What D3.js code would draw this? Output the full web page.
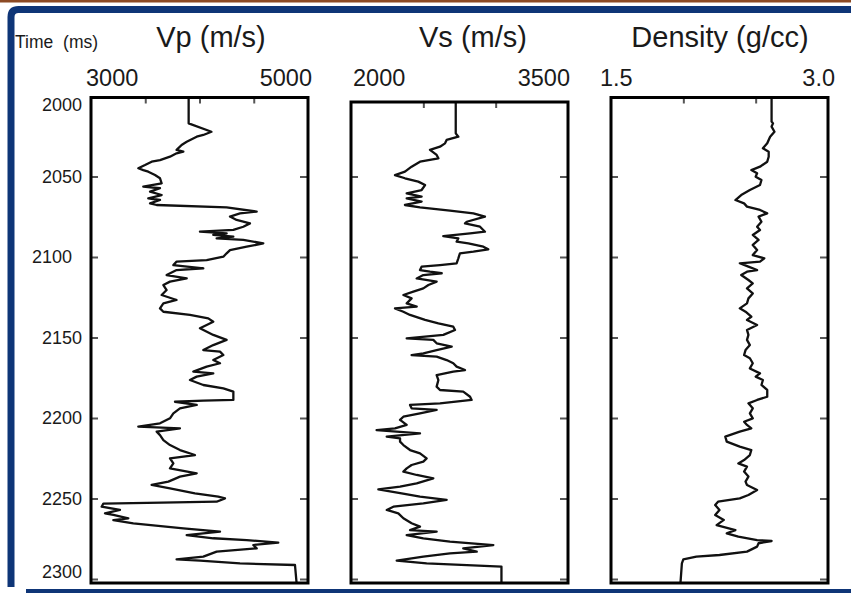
<!DOCTYPE html>
<html>
<head>
<meta charset="utf-8">
<script src="https://cdn.jsdelivr.net/npm/d3@7"></script>
<style>
  body { margin: 0; background: #fff; }
  svg { display: block; font-family: 'Liberation Sans', Arial, sans-serif; }
</style>
</head>
<body>
<div id="main"></div>
<script>
'use strict';
// - - - - - - - - - -

// data
const timeTicks = [2000, 2050, 2100, 2150, 2200, 2250, 2300];

const vpTicks = [3500, 4000, 4500];
const vsTicks = [2500, 3000];
const rhoTicks = [2.0, 2.5];

const vpTime = [2001, 2017, 2022.2, 2024.2, 2025.3, 2028.4, 2030.4, 2033.5, 2034.6, 2035.6,
  2037.7, 2039.8, 2040.8, 2042.9, 2044.9, 2046, 2047, 2049.1, 2051.1, 2054.2,
  2056.3, 2057.3, 2059.4, 2061.5, 2063.6, 2064.6, 2066.7, 2067.7, 2069.2, 2071.8,
  2072.9, 2074.9, 2077, 2079.1, 2081.2, 2083.2, 2084.3, 2085.3, 2086.3, 2087.4,
  2088.4, 2089.4, 2091.5, 2093.6, 2095.7, 2097.7, 2099.8, 2101.9, 2102.9, 2105,
  2107, 2108.1, 2111.2, 2113.3, 2115.3, 2117.4, 2120.5, 2123.6, 2126.7, 2128.8,
  2131.9, 2134, 2136, 2138.1, 2140.2, 2142.2, 2144.3, 2148.4, 2151.5, 2154.7,
  2157.8, 2158.8, 2160.9, 2164, 2166, 2168.1, 2171.2, 2172.3, 2174.3, 2176.4,
  2179.5, 2181.6, 2183.6, 2188.8, 2189.2, 2189.9, 2191.9, 2194, 2197.1, 2200.2,
  2203.3, 2205.4, 2206.4, 2208.5, 2210.6, 2213.7, 2216.8, 2219.9, 2223, 2225.1,
  2228.2, 2231.3, 2234.4, 2236.4, 2239.5, 2241.6, 2243.7, 2246.8, 2248.9, 2249.9,
  2252, 2252.6, 2253.2, 2255.1, 2257.1, 2259.2, 2260.2, 2262.3, 2263.4, 2265.4,
  2268.5, 2270.6, 2272.7, 2274.7, 2275.8, 2277.4, 2278.9, 2281, 2283, 2286.1,
  2287.8, 2288.6, 2290.3, 2291.3, 2302.7];
const vpValue = [3900, 3900, 4110, 4035, 3974, 3882, 3835, 3789, 3851, 3789,
  3728, 3636, 3559, 3498, 3436, 3482, 3528, 3590, 3636, 3651,
  3482, 3636, 3544, 3651, 3528, 3636, 3544, 3605, 4250, 4527,
  4373, 4281, 4342, 4465, 4404, 4312, 4004, 4250, 4127, 4312,
  4158, 4404, 4588, 4435, 4281, 4250, 4220, 4066, 3789, 3759,
  4035, 3789, 3697, 3882, 3728, 3667, 3697, 3651, 3789, 3667,
  3636, 3667, 3912, 4081, 4127, 4066, 4004, 4127, 4250, 4127,
  4035, 4189, 4220, 4127, 4189, 4066, 3943, 4127, 3974, 3912,
  4035, 4220, 4312, 4312, 4035, 3774, 3974, 3820, 3759, 3728,
  3636, 3436, 3820, 3605, 3636, 3667, 3728, 3820, 3958, 3728,
  3759, 3728, 3974, 3820, 3713, 3559, 3728, 3958, 4173, 4235,
  4158, 3651, 3114, 3098, 3267, 3129, 3206, 3344, 3206, 3390,
  3851, 4189, 3882, 4127, 4435, 4726, 4496, 4527, 4158, 4035,
  3789, 4005, 4373, 4880, 4895];

const vsTime = [2003.5, 2023.2, 2025.3, 2027.3, 2029.4, 2031.5, 2033.5, 2036.6, 2038.7, 2040.8,
  2043.9, 2047, 2049.1, 2051.1, 2053.2, 2055.3, 2058.4, 2060.5, 2062.5, 2063.6,
  2065.6, 2067.7, 2069.2, 2071.2, 2072.9, 2074.9, 2078.1, 2079.1, 2081.2, 2084.3,
  2085.3, 2087, 2088.4, 2090.5, 2091.5, 2093.6, 2095.2, 2096.7, 2097.7, 2100.8,
  2103.9, 2105, 2106, 2108.1, 2109.1, 2110.1, 2111.2, 2113.3, 2115.3, 2117.4,
  2119.5, 2121.5, 2123.6, 2125.7, 2128.8, 2130.8, 2131.9, 2134, 2136, 2139.1,
  2141.2, 2143.3, 2145.3, 2148.4, 2150.5, 2151.5, 2153.6, 2155.7, 2157.8, 2159.8,
  2160.9, 2161.9, 2164, 2166, 2168.1, 2170.2, 2171.2, 2173.3, 2176.4, 2180.5,
  2182.6, 2183.6, 2186.8, 2188.8, 2190.9, 2191.9, 2194, 2195, 2197.1, 2199.2,
  2201.2, 2204.3, 2206.4, 2207.5, 2209.5, 2211.6, 2212.6, 2214.7, 2216.8, 2219.9,
  2222, 2225.1, 2227.1, 2229.2, 2231.3, 2233.3, 2235.4, 2237.5, 2240.6, 2242.6,
  2244.3, 2246.8, 2248.9, 2250.9, 2253, 2255.1, 2257.1, 2259.2, 2262.3, 2265.4,
  2267.5, 2269.6, 2270.6, 2272.7, 2274.7, 2276.8, 2278.9, 2281, 2283, 2284.1,
  2286.1, 2288.6, 2290.3, 2292.3, 2302.3];
const vsValue = [2724, 2724, 2742, 2661, 2650, 2615, 2546, 2592, 2604, 2477,
  2419, 2373, 2304, 2373, 2465, 2512, 2488, 2385, 2488, 2385,
  2488, 2373, 2477, 2684, 2846, 2926, 2800, 2788, 2892, 2926,
  2823, 2638, 2742, 2730, 2811, 2915, 2949, 2846, 2753, 2742,
  2730, 2615, 2488, 2477, 2546, 2627, 2500, 2454, 2592, 2535,
  2500, 2431, 2362, 2419, 2385, 2454, 2304, 2362, 2408, 2512,
  2604, 2707, 2719, 2638, 2385, 2569, 2592, 2696, 2592, 2500,
  2419, 2592, 2661, 2707, 2730, 2788, 2707, 2592, 2604, 2592,
  2615, 2776, 2823, 2834, 2615, 2408, 2419, 2592, 2477, 2362,
  2339, 2385, 2304, 2177, 2477, 2247, 2339, 2339, 2362, 2408,
  2477, 2523, 2500, 2419, 2385, 2362, 2454, 2569, 2454, 2339,
  2189, 2350, 2477, 2661, 2500, 2293, 2247, 2327, 2362, 2419,
  2477, 2408, 2592, 2385, 2500, 2684, 2984, 2776, 2869, 2684,
  2500, 2316, 2523, 3040, 3040];

const rhoTime = [2001, 2015.9, 2017, 2019, 2022.2, 2025.3, 2029.4, 2032.5, 2034.6, 2037.7,
  2040.8, 2043.9, 2046, 2048, 2050.1, 2052.2, 2055.3, 2058.4, 2061.5, 2064.6,
  2066.7, 2068.7, 2070.8, 2072.9, 2074.9, 2078.1, 2081.2, 2083.2, 2086.3, 2089.4,
  2092.5, 2095.7, 2098.8, 2100.8, 2102.9, 2103.9, 2106, 2108.1, 2109.1, 2111.2,
  2114.3, 2116.4, 2119.5, 2122.6, 2125.7, 2128.8, 2131.9, 2134, 2137.1, 2139.1,
  2142.2, 2145.3, 2148.4, 2151.5, 2154.7, 2157.8, 2160.9, 2162.9, 2166, 2169.2,
  2172.3, 2174.3, 2176.4, 2179.5, 2182.6, 2186.8, 2188.8, 2190.9, 2194, 2197.1,
  2200.2, 2202.3, 2204.3, 2206.4, 2208.5, 2211.6, 2214.7, 2217.8, 2219.9, 2223,
  2226.1, 2228.2, 2230.2, 2233.3, 2236.4, 2239.5, 2241.6, 2244.7, 2247.8, 2249.9,
  2252, 2254, 2257.1, 2260.2, 2263.3, 2266.5, 2269.6, 2271.6, 2273.7, 2275.8,
  2276.4, 2277.8, 2279.9, 2283, 2285.1, 2286.1, 2287.8, 2290.3, 2302.7];
const rhoValue = [2.61, 2.61, 2.62, 2.61, 2.63, 2.60, 2.58, 2.55, 2.59, 2.59,
  2.58, 2.53, 2.47, 2.51, 2.50, 2.54, 2.53, 2.46, 2.40, 2.36,
  2.42, 2.44, 2.53, 2.58, 2.52, 2.54, 2.51, 2.53, 2.48, 2.52,
  2.48, 2.51, 2.48, 2.56, 2.53, 2.39, 2.45, 2.51, 2.44, 2.40,
  2.45, 2.48, 2.44, 2.48, 2.45, 2.44, 2.39, 2.43, 2.47, 2.44,
  2.51, 2.44, 2.45, 2.44, 2.46, 2.43, 2.42, 2.46, 2.48, 2.46,
  2.53, 2.50, 2.55, 2.54, 2.58, 2.58, 2.51, 2.45, 2.48, 2.46,
  2.48, 2.42, 2.44, 2.47, 2.39, 2.29, 2.30, 2.39, 2.47, 2.46,
  2.42, 2.38, 2.44, 2.42, 2.45, 2.43, 2.44, 2.51, 2.45, 2.39,
  2.24, 2.22, 2.25, 2.22, 2.28, 2.23, 2.36, 2.30, 2.38, 2.51,
  2.61, 2.52, 2.51, 2.44, 2.25, 2.09, 2.00, 1.99, 1.98];

// configuration
let
  svg = undefined,
  yScale = undefined,
  canvas = {},
  tracks = [];

canvas = {
  context: '#main',
  width: 851,
  height: 593,
  trackWidth: 217,
  trackBottom: 583,
  ink: '#1a1a1a',
  tickInk: '#555'
};

tracks = [
  { title: 'Vp (m/s)', time: vpTime, value: vpValue, domain: [3000, 5000], ticks: vpTicks,
    format: d3.format('d'), left: 91, top: 97.5, titleX: 211, labelDx: [-5, 4] },
  { title: 'Vs (m/s)', time: vsTime, value: vsValue, domain: [2000, 3500], ticks: vsTicks,
    format: d3.format('d'), left: 351, top: 102, titleX: 473, labelDx: [2, 2] },
  { title: 'Density (g/cc)', time: rhoTime, value: rhoValue, domain: [1.5, 3.0], ticks: rhoTicks,
    format: d3.format('.1f'), left: 611, top: 97.5, titleX: 720, labelDx: [-11, 7] }
];

// methods
function setCanvas(domContext) {
  svg = d3.select(domContext)
    .append('svg')
    .attr('width', canvas.width)
    .attr('height', canvas.height);
}

function drawDecor() {
  // brown rule + blue slide frame
  svg.append('rect')
    .attr('x', 0).attr('y', 0)
    .attr('width', canvas.width).attr('height', 2.5)
    .attr('fill', '#8c4a24');

  svg.append('path')
    .attr('d', 'M11,587 V17 Q11,9.5 18.5,9.5 H' + canvas.width)
    .attr('fill', 'none')
    .attr('stroke', '#0e3577')
    .attr('stroke-width', 7);

  svg.append('rect')
    .attr('x', 26).attr('y', 589)
    .attr('width', canvas.width - 26).attr('height', 4)
    .attr('fill', '#0e3577');
}

function setYScale() {
  yScale = d3.scaleLinear()
    .domain([2000, 2300])
    .range([96, 579]);
}

function drawTimeAxis() {
  svg.append('text')
    .attr('x', 15)
    .attr('y', 48)
    .attr('font-size', 17.5)
    .attr('word-spacing', 5)
    .attr('fill', canvas.ink)
    .text('Time (ms)');

  // end labels sit inside the frame, 2100 is set a little left
  const nudgeY = { 2000: 9, 2300: -7.5 };
  const nudgeX = { 2100: -10 };

  svg.append('g')
    .selectAll('text')
    .data(timeTicks)
    .enter()
    .append('text')
    .attr('x', d => 82 + (nudgeX[d] || 0))
    .attr('y', d => yScale(d) + (nudgeY[d] || 0))
    .attr('dominant-baseline', 'central')
    .attr('text-anchor', 'end')
    .attr('font-size', 18)
    .attr('fill', canvas.ink)
    .text(d => d);
}

function styleTicks(g) {
  g.select('.domain').remove();
  g.selectAll('.tick line')
    .attr('stroke', canvas.tickInk)
    .attr('stroke-width', 2);
}

function drawTrack(track) {
  const right = track.left + canvas.trackWidth;

  const xScale = d3.scaleLinear()
    .domain(track.domain)
    .range([track.left, right]);

  const inner = timeTicks.slice(1);

  // title and scale ends
  svg.append('text')
    .attr('x', track.titleX)
    .attr('y', 47)
    .attr('text-anchor', 'middle')
    .attr('font-size', 29)
    .attr('fill', canvas.ink)
    .text(track.title);

  svg.append('text')
    .attr('x', xScale(track.domain[0]) + track.labelDx[0])
    .attr('y', 86)
    .attr('font-size', 23.5)
    .attr('fill', canvas.ink)
    .text(track.format(track.domain[0]));

  svg.append('text')
    .attr('x', xScale(track.domain[1]) + track.labelDx[1])
    .attr('y', 86)
    .attr('text-anchor', 'end')
    .attr('font-size', 23.5)
    .attr('fill', canvas.ink)
    .text(track.format(track.domain[1]));

  // inner ticks on three sides
  svg.append('g')
    .attr('transform', 'translate(' + track.left + ',0)')
    .call(d3.axisRight(yScale).tickValues(inner).tickSize(7).tickFormat(''))
    .call(styleTicks);

  svg.append('g')
    .attr('transform', 'translate(' + right + ',0)')
    .call(d3.axisLeft(yScale).tickValues(inner).tickSize(8).tickFormat(''))
    .call(styleTicks);

  svg.append('g')
    .attr('transform', 'translate(0,' + track.top + ')')
    .call(d3.axisBottom(xScale).tickValues(track.ticks).tickSize(6).tickFormat(''))
    .call(styleTicks);

  // log curve
  const line = d3.line()
    .x(d => xScale(d[1]))
    .y(d => yScale(d[0]));

  svg.append('path')
    .datum(d3.zip(track.time, track.value))
    .attr('d', line)
    .attr('fill', 'none')
    .attr('stroke', '#111')
    .attr('stroke-width', 2.3)
    .attr('stroke-linejoin', 'round');

  // frame
  svg.append('rect')
    .attr('x', track.left)
    .attr('y', track.top)
    .attr('width', canvas.trackWidth)
    .attr('height', canvas.trackBottom - track.top)
    .attr('fill', 'none')
    .attr('stroke', '#000')
    .attr('stroke-width', 3);
}

// control
setCanvas(canvas.context);
drawDecor();
setYScale();
drawTimeAxis();
tracks.forEach(drawTrack);

// - - - - - - - - - -
</script>
</body>
</html>
